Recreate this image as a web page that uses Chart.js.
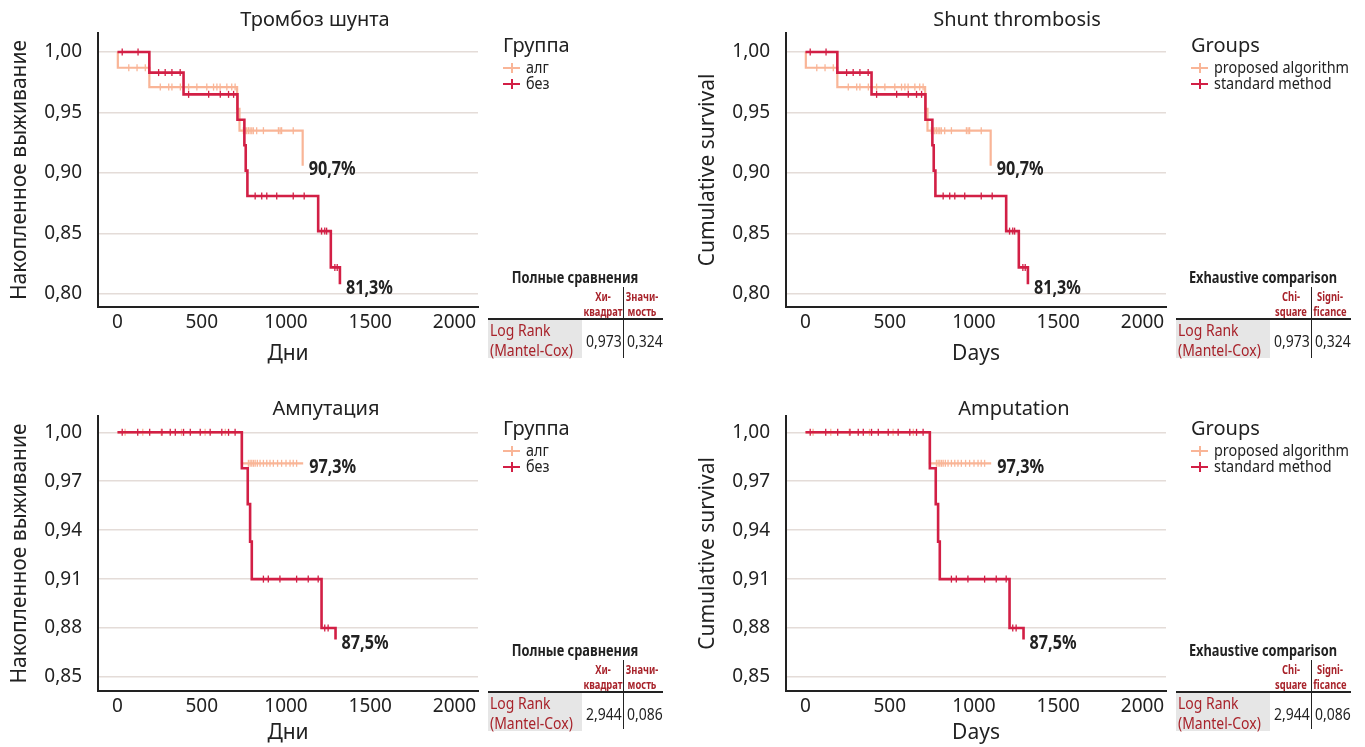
<!DOCTYPE html>
<html><head><meta charset="utf-8">
<script src="https://cdn.jsdelivr.net/npm/chart.js@4.4.0/dist/chart.umd.min.js"></script>
<style>
html,body{margin:0;padding:0;background:#fff;width:1365px;height:747px;overflow:hidden;position:relative;font-family:'Noto Sans',sans-serif;color:#222;}
canvas{position:absolute;}
.abs{position:absolute;white-space:nowrap;}
.lgt{font-size:20px;line-height:24px;}
.lgi{font-size:16px;line-height:16px;transform:scaleX(0.9);transform-origin:0 0;}
.mk{position:absolute;width:17px;height:2px;}
.mk::after{content:'';position:absolute;left:7.5px;top:-4px;width:2px;height:10px;background:inherit;}
.tt{font-weight:bold;font-size:16px;line-height:18px;transform:translateX(-50%) scaleX(0.8);}
.th{font-weight:bold;font-size:12px;line-height:15px;color:#a8232b;transform:translateX(-50%) scaleX(0.78);text-align:center;}
.tc{font-size:15.5px;line-height:20px;transform:scaleX(0.9);transform-origin:0 0;}
.red{color:#a8232b;}
</style></head><body>
<canvas id="c1" style="left:0;top:0" width="630" height="372"></canvas>
<canvas id="c2" style="left:688px;top:0" width="658" height="372"></canvas>
<canvas id="c3" style="left:0;top:383px" width="652" height="364"></canvas>
<canvas id="c4" style="left:688px;top:383px" width="652" height="364"></canvas>
<div id="overlay"></div>
<script>
// ---------- data ----------
const xTicks = [0, 500, 1000, 1500, 2000];
const yTicksThromb = [0.80, 0.85, 0.90, 0.95, 1.00];
const yTicksAmp = [0.85, 0.88, 0.91, 0.94, 0.97, 1.00];

// Shunt thrombosis — "алг" / proposed algorithm
const thrombAlgTime = [0, 2, 189, 710, 724, 1099];
const thrombAlgSurv = [1.000, 0.987, 0.971, 0.953, 0.935, 0.906];
const thrombAlgCensored = [67, 116, 165, 254, 304, 323, 373, 422, 471, 530, 570, 590, 609, 649, 678, 698, 747, 757, 767, 777, 787, 797, 806, 826, 866, 955, 965, 974, 1043];
// Shunt thrombosis — "без" / standard method
const thrombBezTime = [0, 189, 392, 712, 753, 761, 771, 1191, 1266, 1320];
const thrombBezSurv = [1.000, 0.983, 0.965, 0.944, 0.923, 0.902, 0.881, 0.852, 0.822, 0.808];
const thrombBezCensored = [28, 122, 244, 283, 323, 372, 422, 541, 610, 659, 689, 817, 856, 886, 945, 1043, 1108, 1211, 1230, 1241, 1290, 1304];
const thrombEndLabels = ['90,7%', '81,3%'];

// Amputation
const ampAlgTime = [0, 738, 1102];
const ampAlgSurv = [1.000, 0.981, 0.981];
const ampAlgCensored = [45, 150, 260, 380, 520, 640, 777, 787, 797, 807, 817, 830, 846, 866, 886, 905, 925, 950, 974, 1000, 1024, 1043, 1063];
const ampBezTime = [0, 738, 773, 787, 797, 1211, 1294];
const ampBezSurv = [1.000, 0.978, 0.956, 0.933, 0.910, 0.880, 0.873];
const ampBezCensored = [28, 120, 191, 264, 313, 343, 392, 432, 491, 550, 619, 659, 698, 866, 895, 964, 1063, 1132, 1191, 1230, 1250];
const ampEndLabels = ['97,3%', '87,5%'];

// statistics tables
const thrombStats = ['0,973', '0,324'];
const ampStats = ['2,944', '0,086'];

// ---------- styling ----------
const RED = '#d21f45';
const PEACH = '#f9b597';
const FONT = "'Noto Sans', sans-serif";

function survAt(times, surv, t) {
  let s = surv[0];
  for (let i = 0; i < times.length; i++) if (times[i] <= t) s = surv[i];
  return s;
}

const endLabelPlugin = {
  id: 'endLabel',
  afterDatasetsDraw(chart) {
    const ctx = chart.ctx;
    chart.data.datasets.forEach((ds, i) => {
      if (!ds.endLabel) return;
      const meta = chart.getDatasetMeta(i);
      const pt = meta.data[meta.data.length - 1];
      ctx.save();
      ctx.font = 'bold 20px ' + FONT;
      ctx.fillStyle = '#222';
      ctx.textBaseline = 'middle';
      ctx.textAlign = 'left';
      ctx.translate(pt.x + 6, pt.y + 4);
      ctx.scale(0.81, 1);
      ctx.fillText(ds.endLabel, 0, 0);
      ctx.restore();
    });
  }
};

function makeChart(id, cfg) {
  const canvas = document.getElementById(id);
  const rightW = canvas.width - 478;
  const stepDs = (times, surv, color, w, label, endLabel) => ({
    type: 'line', label, data: times.map((t, i) => ({x: t, y: surv[i]})),
    stepped: true, borderColor: color, borderWidth: w, pointRadius: 0, fill: false, endLabel
  });
  const censDs = (cens, times, surv, color) => ({
    type: 'line', showLine: false,
    data: cens.map(t => ({x: t, y: survAt(times, surv, t)})),
    pointStyle: 'line', rotation: 90, pointRadius: 3.5, borderColor: color, pointBorderColor: color, pointBorderWidth: 1.3
  });
  return new Chart(canvas, {
    type: 'line',
    data: {
      datasets: [
        stepDs(cfg.bezT, cfg.bezS, RED, 2.6, cfg.names[1], cfg.ends[1]),
        censDs(cfg.bezC, cfg.bezT, cfg.bezS, RED),
        stepDs(cfg.algT, cfg.algS, PEACH, 2.2, cfg.names[0], cfg.ends[0]),
        censDs(cfg.algC, cfg.algT, cfg.algS, PEACH)
      ]
    },
    options: {
      responsive: false, animation: false,
      layout: {padding: 0},
      plugins: {
        legend: {display: false}, tooltip: {enabled: false},
        title: {display: true, text: cfg.title, color: '#222',
          font: {family: FONT, size: 20, weight: 'normal', lineHeight: 0.7},
          padding: {top: cfg.titleTop, bottom: 33 - 14 - cfg.titleTop}}
      },
      scales: {
        x: {
          type: 'linear', min: -115.7, max: 2139.5,
          afterBuildTicks: s => { s.ticks = xTicks.map(v => ({value: v})); },
          afterFit: s => { s.height = cfg.xH; },
          grid: {display: false, drawTicks: false},
          border: {display: true, color: '#222', width: 2},
          ticks: {color: '#222', font: {family: FONT, size: 19}, padding: 4, maxRotation: 0, autoSkip: false,
            callback: v => String(v)},
          title: {display: true, text: cfg.xTitle, color: '#222', font: {family: FONT, size: 21},
            padding: {top: 0, bottom: cfg.xTitlePad}}
        },
        y: {
          type: 'linear', position: 'left', min: cfg.yMin, max: cfg.yMax,
          afterBuildTicks: s => { s.ticks = cfg.yTicks.map(v => ({value: v})); },
          afterFit: s => { s.width = 98; },
          grid: {color: '#e4dcd8', lineWidth: 1.5, drawTicks: false},
          border: {display: true, color: '#222', width: 2},
          ticks: {color: '#222', font: {family: FONT, size: 19}, padding: 16,
            callback: v => v.toFixed(2).replace('.', ',')},
          title: {display: true, text: cfg.yTitle, color: '#222', font: {family: FONT, size: 21},
            padding: {top: 7.4, bottom: 0}}
        },
        side: {
          type: 'linear', position: 'right', display: true,
          afterFit: s => { s.width = rightW; },
          grid: {display: false, drawTicks: false},
          border: {display: false},
          ticks: {display: false}
        }
      }
    },
    plugins: [endLabelPlugin]
  });
}

const thromb = {bezT: thrombBezTime, bezS: thrombBezSurv, bezC: thrombBezCensored,
  algT: thrombAlgTime, algS: thrombAlgSurv, algC: thrombAlgCensored, ends: thrombEndLabels,
  yTicks: yTicksThromb, yMin: 0.7893, yMax: 1.0157, xH: 65, xTitlePad: 5.4, titleTop: 13};
const amp = {bezT: ampBezTime, bezS: ampBezSurv, bezC: ampBezCensored,
  algT: ampAlgTime, algS: ampAlgSurv, algC: ampAlgCensored, ends: ampEndLabels,
  yTicks: yTicksAmp, yMin: 0.8414, yMax: 1.0100, xH: 56, xTitlePad: 1.4, titleTop: 19};

makeChart('c1', Object.assign({}, thromb, {title: 'Тромбоз шунта', xTitle: 'Дни', yTitle: 'Накопленное выживание', names: ['алг', 'без']}));
makeChart('c2', Object.assign({}, thromb, {title: 'Shunt thrombosis', xTitle: 'Days', yTitle: 'Cumulative survival', names: ['proposed algorithm', 'standard method']}));
makeChart('c3', Object.assign({}, amp, {title: 'Ампутация', xTitle: 'Дни', yTitle: 'Накопленное выживание', names: ['алг', 'без']}));
makeChart('c4', Object.assign({}, amp, {title: 'Amputation', xTitle: 'Days', yTitle: 'Cumulative survival', names: ['proposed algorithm', 'standard method']}));

// ---------- legends & tables (HTML) ----------
const ov = document.getElementById('overlay');
function add(html) { ov.insertAdjacentHTML('beforeend', html); }
function legend(x, y, title, names) {
  add(`<div class="abs lgt" style="left:${x}px;top:${y - 12}px">${title}</div>`);
  [PEACH, RED].forEach((c, i) => {
    const cy = y + 23 + i * 16;
    add(`<span class="mk" style="left:${x}px;top:${cy - 1}px;background:${c}"></span>`);
    add(`<div class="abs lgi" style="left:${x + 23}px;top:${cy - 9}px">${names[i]}</div>`);
  });
}
function table(x0, y0, title, h1, h2, stats, sepBottom) {
  add(`<div class="abs tt" style="left:${x0 + 87}px;top:${y0 - 51}px">${title}</div>`);
  add(`<div class="abs th" style="left:${x0 + 115}px;top:${y0 - 30}px">${h1[0]}<br>${h1[1]}</div>`);
  add(`<div class="abs th" style="left:${x0 + 154}px;top:${y0 - 30}px">${h2[0]}<br>${h2[1]}</div>`);
  add(`<div class="abs" style="left:${x0}px;top:${y0 + 1}px;width:94px;height:38px;background:#e6e6e6"></div>`);
  add(`<div class="abs" style="left:${x0}px;top:${y0 - 1}px;width:175px;height:1.5px;background:#222"></div>`);
  add(`<div class="abs" style="left:${x0 + 134.5}px;top:${y0 - 32}px;width:1.5px;height:${sepBottom}px;background:#222"></div>`);
  add(`<div class="abs tc red" style="left:${x0 + 2}px;top:${y0 + 1}px">Log Rank</div>`);
  add(`<div class="abs tc red" style="left:${x0 + 2}px;top:${y0 + 21}px">(Mantel-Cox)</div>`);
  add(`<div class="abs tc" style="left:${x0 + 98}px;top:${y0 + 12}px">${stats[0]}</div>`);
  add(`<div class="abs tc" style="left:${x0 + 139}px;top:${y0 + 12}px">${stats[1]}</div>`);
}
legend(503, 45, 'Группа', ['алг', 'без']);
legend(1191, 45, 'Groups', ['proposed algorithm', 'standard method']);
legend(503, 428, 'Группа', ['алг', 'без']);
legend(1191, 428, 'Groups', ['proposed algorithm', 'standard method']);
table(488, 319, 'Полные сравнения', ['Хи-', 'квадрат'], ['Значи-', 'мость'], thrombStats, 71);
table(1176, 319, 'Exhaustive comparison', ['Chi-', 'square'], ['Signi-', 'ficance'], thrombStats, 71);
table(488, 692, 'Полные сравнения', ['Хи-', 'квадрат'], ['Значи-', 'мость'], ampStats, 69);
table(1176, 692, 'Exhaustive comparison', ['Chi-', 'square'], ['Signi-', 'ficance'], ampStats, 69);
</script>
</body></html>
